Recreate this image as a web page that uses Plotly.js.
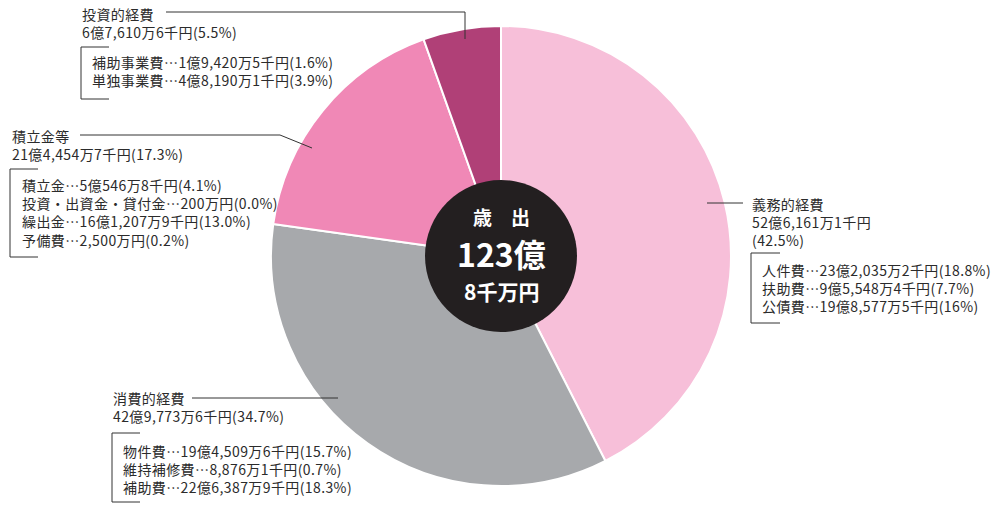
<!DOCTYPE html>
<html>
<head>
<meta charset="utf-8">
<script src="https://cdn.plot.ly/plotly-3.0.1.min.js"></script>
<style>html,body{margin:0;padding:0;background:#fff;}#chart{width:1001px;height:506px;}</style>
</head>
<body>
<div id="chart"></div>
<script>
// ---- data ----
var categories = ["義務的経費", "消費的経費", "積立金等", "投資的経費"];
var values = [5261611, 4297736, 2144547, 676106]; // 千円
var amountLabels = ["52億6,161万1千円", "42億9,773万6千円", "21億4,454万7千円", "6億7,610万6千円"];
var percentLabels = ["42.5%", "34.7%", "17.3%", "5.5%"];
var colors = ["#F7BFD9", "#A7A9AC", "#F088B6", "#B04077"];
var subItems = [
  ["人件費…23億2,035万2千円(18.8%)", "扶助費…9億5,548万4千円(7.7%)", "公債費…19億8,577万5千円(16%)"],
  ["物件費…19億4,509万6千円(15.7%)", "維持補修費…8,876万1千円(0.7%)", "補助費…22億6,387万9千円(18.3%)"],
  ["積立金…5億546万8千円(4.1%)", "投資・出資金・貸付金…200万円(0.0%)", "繰出金…16億1,207万9千円(13.0%)", "予備費…2,500万円(0.2%)"],
  ["補助事業費…1億9,420万5千円(1.6%)", "単独事業費…4億8,190万1千円(3.9%)"]
];
var totalTitle = "歳　出";
var totalMain = "123億";
var totalSub = "8千万円";

// ---- layout helpers ----
var W = 1001, H = 506;
function px(x) { return x / W; }
function py(y) { return 1 - y / H; }
var FONT = '"Noto Sans CJK JP", "Noto Sans", sans-serif';
var TXT = '#2b2b2b';

var pieTrace = {
  type: 'pie',
  labels: categories,
  values: values,
  sort: false,
  direction: 'clockwise',
  rotation: 0,
  textinfo: 'none',
  hoverinfo: 'label+percent',
  marker: { colors: colors, line: { color: '#ffffff', width: 2 } },
  domain: { x: [px(271), px(731)], y: [py(486), py(26)] },
  showlegend: false
};
var centerTrace = {
  type: 'pie',
  labels: ['total'],
  values: [1],
  textinfo: 'none',
  hoverinfo: 'skip',
  marker: { colors: ['#231F20'], line: { width: 0 } },
  domain: { x: [px(425), px(577)], y: [py(332), py(180)] },
  showlegend: false,
  sort: false
};

// label block positions (px): head x / center y, sub x / center y
var pos = [
  { hx: 751, hy: 221.5, sx: 761, sy: 287.5, threeLine: true },
  { hx: 112, hy: 407, sx: 122, sy: 468.5 },
  { hx: 11, hy: 145, sx: 21, sy: 212.5 },
  { hx: 81, hy: 23, sx: 91, sy: 71 }
];

function sp(t) { return '<span style="letter-spacing:0.4px">' + t + '</span>'; }

var annotations = [];
function addBlock(x, y, lines) {
  annotations.push({
    xref: 'paper', yref: 'paper', x: px(x), y: py(y),
    xanchor: 'left', yanchor: 'middle', align: 'left', showarrow: false,
    borderpad: 0, text: lines.map(sp).join('<br>'), font: { family: FONT, size: 14, color: TXT }
  });
}
categories.forEach(function (c, i) {
  var p = pos[i];
  var head = p.threeLine
    ? [c, amountLabels[i], '(' + percentLabels[i] + ')']
    : [c, amountLabels[i] + '(' + percentLabels[i] + ')'];
  addBlock(p.hx, p.hy, head);
  addBlock(p.sx, p.sy, subItems[i]);
});
annotations.push({ xref: 'paper', yref: 'paper', x: px(501), y: py(217), xanchor: 'center', yanchor: 'middle', showarrow: false, borderpad: 0,
  text: '<b>' + totalTitle + '</b>', font: { family: FONT, size: 19, color: '#ffffff' } });
annotations.push({ xref: 'paper', yref: 'paper', x: px(501), y: py(253), xanchor: 'center', yanchor: 'middle', showarrow: false, borderpad: 0,
  text: '<b>' + totalMain + '</b>', font: { family: FONT, size: 32, color: '#ffffff' } });
annotations.push({ xref: 'paper', yref: 'paper', x: px(501), y: py(291), xanchor: 'center', yanchor: 'middle', showarrow: false, borderpad: 0,
  text: '<b>' + totalSub + '</b>', font: { family: FONT, size: 21, color: '#ffffff' } });

function path(pts) {
  return pts.map(function (p, k) { return (k ? 'L' : 'M') + px(p[0]) + ',' + py(p[1]); }).join(' ');
}
var lineStyle = { color: '#333333', width: 1 };
var paths = [
  // leaders
  [[707, 203], [743, 203]],
  [[192, 398], [338, 398]],
  [[80, 135], [280, 135], [312, 148]],
  [[166, 12], [465, 12], [465, 39]],
  // brackets
  [[780, 253], [751, 253], [751, 323], [780, 323]],
  [[140, 433], [112, 433], [112, 502], [140, 502]],
  [[38, 169], [10, 169], [10, 257], [38, 257]],
  [[109, 47], [81, 47], [81, 99], [109, 99]]
];
var shapes = paths.map(function (pts) {
  return { type: 'path', xref: 'paper', yref: 'paper', path: path(pts), line: lineStyle };
});

var layout = {
  width: W, height: H,
  margin: { l: 0, r: 0, t: 0, b: 0 },
  paper_bgcolor: '#ffffff',
  showlegend: false,
  annotations: annotations,
  shapes: shapes
};
Plotly.newPlot('chart', [pieTrace, centerTrace], layout, { displayModeBar: false, staticPlot: true });
</script>
</body>
</html>
